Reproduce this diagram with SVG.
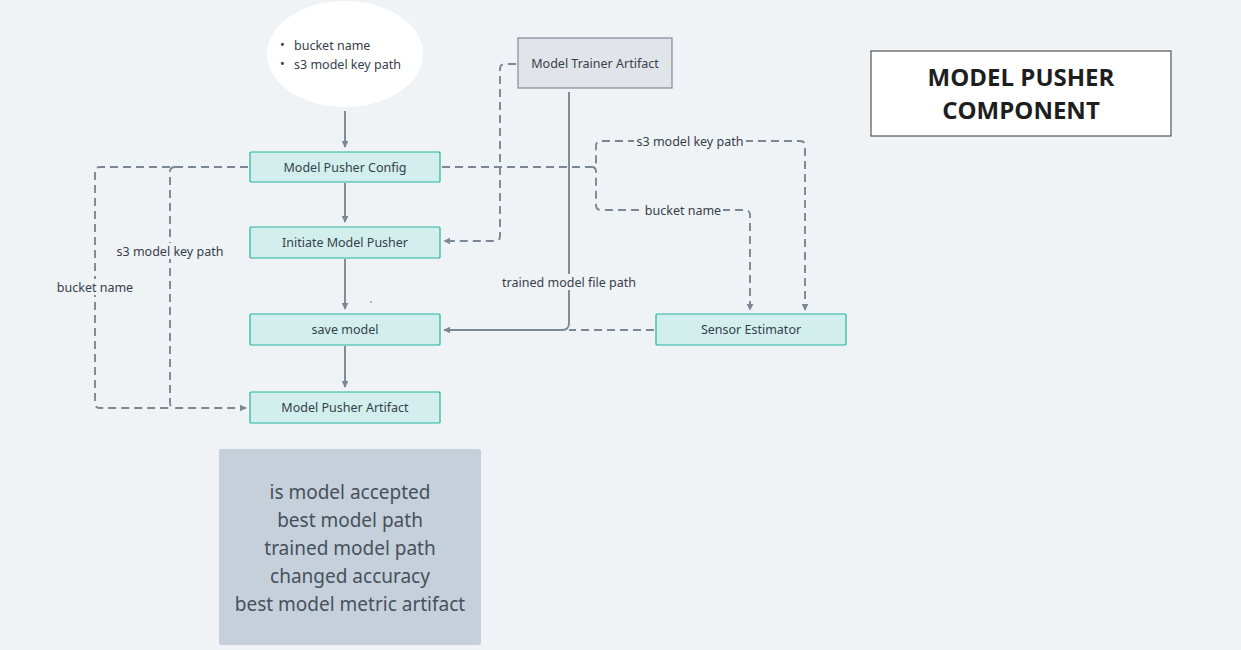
<svg xmlns="http://www.w3.org/2000/svg" width="1241" height="650" viewBox="0 0 1241 650">
<defs>
<marker id="ah" viewBox="0 0 10 10" refX="9" refY="5" markerWidth="7" markerHeight="7" markerUnits="userSpaceOnUse" orient="auto"><path d="M0,0 L10,5 L0,10 z" fill="#7b8794"/></marker>
<style>
.node rect{fill:#d2efed;stroke:#22b3a0;stroke-width:1.2}
text{font-family:"Noto Sans","Open Sans",sans-serif;fill:#36404b}
.nt{font-size:12.5px;text-anchor:middle}
.lbl{font-size:12.5px;text-anchor:middle}
.c{fill:none;stroke:#7b8794;stroke-width:1.9}
.d{stroke-dasharray:8,5}
.bg{fill:#f0f3f6}
</style>
</defs>
<rect width="1241" height="650" fill="#f0f3f6"/>

<g id="connectors">
<path class="c" d="M345,111 V147" marker-end="url(#ah)"/>
<path class="c" d="M345,183 V222" marker-end="url(#ah)"/>
<path class="c" d="M345,259 V309" marker-end="url(#ah)"/>
<path class="c" d="M345,346 V387" marker-end="url(#ah)"/>
<path class="c d" d="M516,64 H505 Q500,64 500,69 V236 Q500,241 495,241 H444" marker-end="url(#ah)"/>
<path class="c" d="M569,92 V323 Q569,330 562,330 H444" marker-end="url(#ah)"/>
<path class="c d" d="M654,330 H569"/>
<path class="c d" d="M442,167 H592 Q596,167 596,162 V146 Q596,141 601,141 H800 Q805,141 805,146 V310" marker-end="url(#ah)"/>
<path class="c d" d="M592,167 Q596,167 596,172 V205 Q596,210 601,210 H745 Q750,210 750,215 V310" marker-end="url(#ah)"/>
<path class="c d" d="M248,167 H100 Q95,167 95,172 V403 Q95,408 100,408 H170"/>
<path class="c d" d="M175,167 Q170,167 170,172 V403 Q170,408 175,408 H246" marker-end="url(#ah)"/>
<rect class="bg" x="634" y="133" width="112" height="16"/>
<text class="lbl" x="690" y="146">s3 model key path</text>
<rect class="bg" x="643" y="202" width="80" height="16"/>
<text class="lbl" x="683" y="215">bucket name</text>
<rect class="bg" x="500" y="274" width="138" height="16"/>
<text class="lbl" x="569" y="287">trained model file path</text>
<rect class="bg" x="55" y="279" width="80" height="16"/>
<text class="lbl" x="95" y="292">bucket name</text>
<rect class="bg" x="114" y="243" width="112" height="16"/>
<text class="lbl" x="170" y="256">s3 model key path</text>
</g>

<g id="input-ellipse">
<ellipse cx="345" cy="54" rx="78" ry="53" fill="#ffffff"/>
<text x="280" y="49" style="font-size:12.5px">•</text>
<text x="294" y="50" style="font-size:12.5px">bucket name</text>
<text x="280" y="68" style="font-size:12.5px">•</text>
<text x="294" y="69" style="font-size:12.5px">s3 model key path</text>
</g>

<g id="model-trainer-artifact">
<rect x="518" y="38" width="154" height="50" fill="#e1e5ea" stroke="#7f8b98" stroke-width="1.2"/>
<text class="nt" x="595" y="68">Model Trainer Artifact</text>
</g>

<g id="model-pusher-config" class="node">
<rect x="250" y="152" width="190" height="30" rx="1"/>
<text class="nt" x="345" y="172">Model Pusher Config</text>
</g>

<g id="initiate-model-pusher" class="node">
<rect x="250" y="227" width="190" height="31" rx="1"/>
<text class="nt" x="345" y="247">Initiate Model Pusher</text>
</g>

<g id="save-model" class="node">
<rect x="250" y="314" width="190" height="31" rx="1"/>
<text class="nt" x="345" y="334">save model</text>
</g>

<g id="model-pusher-artifact" class="node">
<rect x="250" y="392" width="190" height="31" rx="1"/>
<text class="nt" x="345" y="412">Model Pusher Artifact</text>
</g>

<g id="sensor-estimator" class="node">
<rect x="656" y="314" width="190" height="31" rx="1"/>
<text class="nt" x="751" y="334">Sensor Estimator</text>
</g>

<g id="title">
<rect x="871" y="51" width="300" height="85" fill="#ffffff" stroke="#555555" stroke-width="1.2"/>
<text x="1021" y="86" text-anchor="middle" style="font-family:'Open Sans','Noto Sans',sans-serif;font-size:24px;font-weight:bold;fill:#1e1e1e">MODEL PUSHER</text>
<text x="1021" y="119" text-anchor="middle" style="font-family:'Open Sans','Noto Sans',sans-serif;font-size:24px;font-weight:bold;fill:#1e1e1e">COMPONENT</text>
</g>

<g id="artifact-fields">
<rect x="219" y="449" width="262" height="196" rx="2" fill="#c5d0da"/>
<g style="font-size:19px;text-anchor:middle">
<text x="350" y="499" style="fill:#46515c">is model accepted</text>
<text x="350" y="527" style="fill:#46515c">best model path</text>
<text x="350" y="555" style="fill:#46515c">trained model path</text>
<text x="350" y="583" style="fill:#46515c">changed accuracy</text>
<text x="350" y="611" style="fill:#46515c">best model metric artifact</text>
</g>
</g>
<circle cx="371" cy="302" r="0.8" fill="#3b82d6"/>
</svg>
